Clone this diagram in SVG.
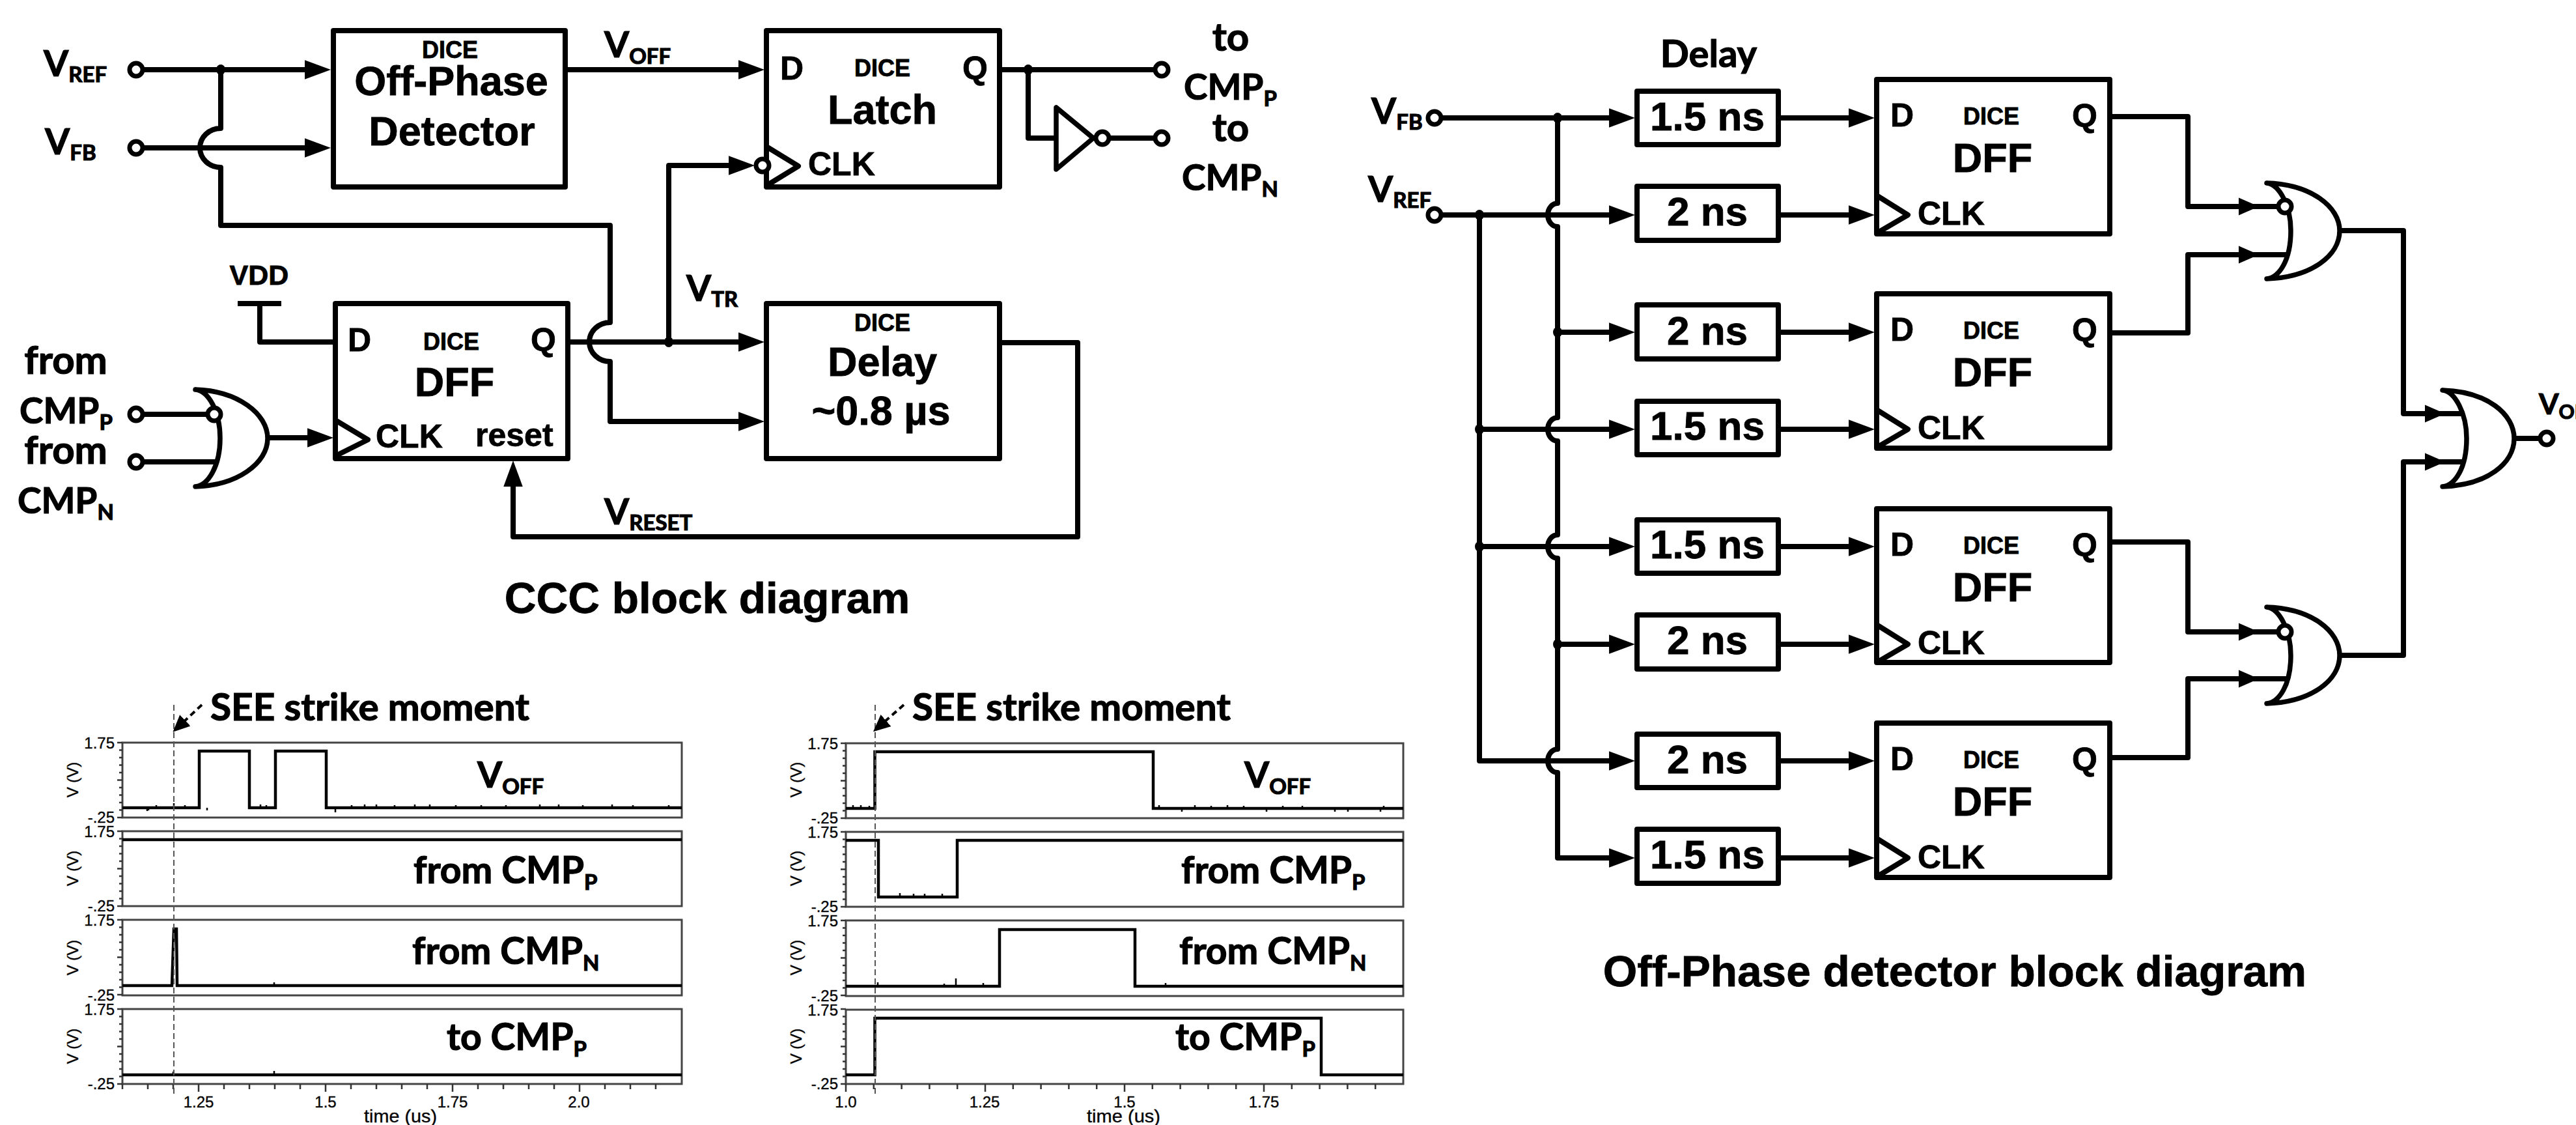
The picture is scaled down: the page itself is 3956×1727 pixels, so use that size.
<svg xmlns="http://www.w3.org/2000/svg" width="3956" height="1727" viewBox="0 0 3956 1727">
<style>
text{fill:#000}
.a{font-family:"Liberation Sans",Arial,sans-serif;font-weight:700;stroke:#000;stroke-width:.8}
.l{font-family:Lato,"Liberation Sans",sans-serif;font-weight:700;stroke:#000;stroke-width:1.2}
.c{text-anchor:middle}
.t{font-size:36px}.m{font-size:63px}.p{font-size:50px}.n{font-size:62px}.h{font-size:67.5px}
.v{font-size:55px}.s{font-size:33px}
.q{font-size:57px}.r{font-size:57px}.u{font-size:60px}
.ax{font-family:"Liberation Sans",Arial,sans-serif;font-size:24px;fill:#111;stroke:#111;stroke-width:.4}
.w{fill:none;stroke:#000;stroke-width:8;stroke-linejoin:round}
.wa{marker-end:url(#ah)}
.b{fill:#fff;stroke:#000;stroke-width:8;stroke-linejoin:round}
.o{fill:#fff;stroke:#000;stroke-width:7}
.g{fill:#fff;stroke:#000;stroke-width:7.5;stroke-linejoin:round;stroke-linecap:round}
.f{fill:#fff;stroke:#444;stroke-width:3}
.tk{fill:none;stroke:#333;stroke-width:2.5}
.sg{fill:none;stroke:#000;stroke-width:4.5}
.bl{fill:none;stroke:#000;stroke-width:2.5}
.dv{stroke:#555;stroke-width:2;stroke-dasharray:9 5}
</style>
<defs>
<marker id="ah" markerUnits="userSpaceOnUse" markerWidth="40" markerHeight="30" viewBox="0 0 38 28" refX="18" refY="14" orient="auto"><path d="M0 0L38 14L0 28z"/></marker>
<marker id="dh" markerUnits="userSpaceOnUse" markerWidth="26" markerHeight="24" viewBox="0 0 26 24" refX="6" refY="12" orient="auto"><path d="M0 0L26 12L0 24z"/></marker>
<path id="gh" d="M-31-13.5L0 0L-31 13.5z"/>
<path id="yt" class="tk" d="M-8 0h8m-5 11.5h5m-5 11.5h5m-5 11.5h5m-5 11.5h5m-8 11.5h8m-5 11.5h5m-5 11.5h5m-5 11.5h5m-5 11.5h5m-8 11.5h8"/>
<path id="x1" class="tk" d="M188 1664v8m39-8v8m39-8v8m39-8v12m39-12v8m39-8v8m39-8v8m39-8v8m39-8v12m39-12v8m39-8v8m39-8v8m39-8v8m39-8v12m39-12v8m39-8v8m39-8v8m39-8v8m39-8v12m39-12v8m39-8v8m39-8v8"/>
<path id="x2" class="tk" d="M1299 1664v12m42.8-12v8m42.8-8v8m42.8-8v8m42.8-8v8m42.8-8v12m42.8-12v8m42.8-8v8m42.8-8v8m42.8-8v8m42.8-8v12m42.8-12v8m42.8-8v8m42.8-8v8m42.8-8v8m42.8-8v12m42.8-12v8m42.8-8v8m42.8-8v8m42.8-8v8"/>
</defs>
<rect width="3956" height="1727" fill="#fff"/>

<g id="connectors">
<path class="w wa" d="M209 107H487"/>
<path class="w wa" d="M209 227H487"/>
<path class="w" d="M339 107V197A32 30 0 0 0 339 257V346H937V495A32 30 0 0 0 937 555V647H1153" marker-end="url(#ah)"/>
<path class="w wa" d="M872 107H1153"/>
<path class="w" d="M1539 107H1784M1579 107V212H1622M1693 212H1784"/>
<path class="w wa" d="M876 525H1153"/>
<path class="w wa" d="M1027 525V254H1138"/>
<path class="w" d="M365 466H432M399 466V525H515"/>
<path class="w" d="M209 636H329M209 709H335"/>
<path class="w wa" d="M411 672H491"/>
<path class="w" d="M1539 526H1655V824H788V728" marker-end="url(#ah)"/>
<path class="w wa" d="M2203 181H2490"/>
<path class="w wa" d="M2203 330H2490"/>
<path class="w" d="M2392 181V312A15 18 0 0 0 2392 348V641A15 18 0 0 0 2392 677V821A15 18 0 0 0 2392 857V1150A15 18 0 0 0 2392 1186V1317H2490" marker-end="url(#ah)"/>
<path class="w wa" d="M2392 510H2490"/>
<path class="w wa" d="M2392 989H2490"/>
<path class="w wa" d="M2272 330V1168H2490"/>
<path class="w wa" d="M2272 659H2490"/>
<path class="w wa" d="M2272 839H2490"/>
<path class="w wa" d="M2735 181H2858"/><path class="w wa" d="M2735 330H2858"/>
<path class="w wa" d="M2735 510H2858"/><path class="w wa" d="M2735 659H2858"/>
<path class="w wa" d="M2735 839H2858"/><path class="w wa" d="M2735 989H2858"/>
<path class="w wa" d="M2735 1168H2858"/><path class="w wa" d="M2735 1317H2858"/>
<path class="w" d="M3244 179H3360V317H3510M3244 511H3360V391H3516M3244 832H3360V970H3510M3244 1163H3360V1042H3516"/>
<path class="w" d="M3593 354H3691V635H3782M3593 1006H3691V709H3782M3861 673H3911"/>
<use href="#gh" x="3469" y="317"/><use href="#gh" x="3469" y="391"/>
<use href="#gh" x="3469" y="970"/><use href="#gh" x="3469" y="1042"/>
<use href="#gh" x="3755" y="635"/><use href="#gh" x="3755" y="709"/>
<g id="junctions">
<ellipse cx="339" cy="107" rx="7" ry="8"/><ellipse cx="1579" cy="107" rx="7" ry="8"/><ellipse cx="1027" cy="525" rx="7" ry="8"/>
<ellipse cx="2392" cy="181" rx="7" ry="8"/><ellipse cx="2272" cy="330" rx="7" ry="8"/><ellipse cx="2392" cy="510" rx="7" ry="8"/>
<ellipse cx="2272" cy="659" rx="7" ry="8"/><ellipse cx="2272" cy="839" rx="7" ry="8"/><ellipse cx="2392" cy="989" rx="7" ry="8"/>
</g>
</g>

<g id="ccc-terminals">
<circle class="o" cx="209" cy="107" r="10"/><circle class="o" cx="209" cy="227" r="10"/>
<circle class="o" cx="1784" cy="107" r="10"/><circle class="o" cx="1784" cy="212" r="10"/>
<circle class="o" cx="209" cy="636" r="10"/><circle class="o" cx="209" cy="709" r="10"/>
</g>
<g id="ccc-labels">
<text class="l v" x="67" y="117">V<tspan class="s" dy="9">REF</tspan></text>
<text class="l v" x="69" y="237">V<tspan class="s" dy="9">FB</tspan></text>
<text class="l v" x="928" y="88">V<tspan class="s" dy="10">OFF</tspan></text>
<text class="l v" x="1054" y="462">V<tspan class="s" dy="9">TR</tspan></text>
<text class="l v" x="928" y="805">V<tspan class="s" dy="9">RESET</tspan></text>
<text class="l c u" x="1890" y="78">to</text>
<text class="l v" x="1818" y="153">CMP<tspan class="s" dy="10">P</tspan></text>
<text class="l c u" x="1890" y="217">to</text>
<text class="l v" x="1815" y="292">CMP<tspan class="s" dy="10">N</tspan></text>
<text class="l c u" x="101" y="574">from</text>
<text class="l v" x="30" y="650">CMP<tspan class="s" dy="10">P</tspan></text>
<text class="l c u" x="101" y="712">from</text>
<text class="l v" x="27" y="788">CMP<tspan class="s" dy="10">N</tspan></text>
<text class="a c" style="font-size:43px" x="398" y="437">VDD</text>
<text class="a c h" x="1086" y="941">CCC block diagram</text>
</g>

<g id="off-phase-detector-block">
<rect class="b" x="512" y="47" width="356" height="240"/>
<text class="a c t" x="691" y="89">DICE</text>
<text class="a c m" x="693" y="146">Off-Phase</text>
<text class="a c m" x="694" y="223">Detector</text>
</g>
<g id="latch">
<rect class="b" x="1177" y="47" width="358" height="240"/>
<path class="w" d="M1177 225L1226 255L1177 285"/>
<circle class="o" cx="1171" cy="254" r="10"/>
<text class="a p" x="1198" y="122">D</text>
<text class="a p" x="1478" y="122">Q</text>
<text class="a c t" x="1355" y="117">DICE</text>
<text class="a c m" x="1355" y="190">Latch</text>
<text class="a p" x="1241" y="269">CLK</text>
</g>
<g id="inverter">
<path class="g" d="M1622 165V260L1679 212z"/>
<circle class="o" cx="1693" cy="212" r="10"/>
</g>
<g id="ccc-dff">
<rect class="b" x="515" y="466" width="357" height="238"/>
<path class="w" d="M515 645L565 675L515 700"/>
<text class="a p" x="534" y="539">D</text>
<text class="a p" x="815" y="539">Q</text>
<text class="a c t" x="693" y="537">DICE</text>
<text class="a c m" x="698" y="608">DFF</text>
<text class="a p" x="577" y="687">CLK</text>
<text class="a p" x="730" y="685">reset</text>
</g>
<g id="ccc-delay">
<rect class="b" x="1177" y="466" width="358" height="238"/>
<text class="a c t" x="1355" y="508">DICE</text>
<text class="a c m" x="1355" y="577">Delay</text>
<text class="a c m" x="1353" y="652">~0.8 µs</text>
</g>
<g id="ccc-or">
<path class="g" d="M300 598C365 600 411 635 411 673C411 711 365 745 300 747C320 745 338 715 338 673C338 631 320 600 300 598z"/>
<circle class="o" cx="329" cy="636" r="10"/>
</g>

<g id="plot-left">
<rect class="f" x="188" y="1140" width="859" height="115"/>
<rect class="f" x="188" y="1276" width="859" height="115"/>
<rect class="f" x="188" y="1412" width="859" height="116"/>
<rect class="f" x="188" y="1549" width="859" height="115"/>
<use href="#yt" x="188" y="1140"/><use href="#yt" x="188" y="1276"/><use href="#yt" x="188" y="1412"/><use href="#yt" x="188" y="1549"/>
<use href="#x1"/>
<path class="sg" d="M188 1240H306V1153H383V1240H423V1153H501V1240H1047"/>
<path class="sg" d="M188 1289H1047"/>
<path class="sg" d="M188 1513H264L267 1426H271L272 1513H1047"/>
<path class="sg" d="M188 1650H1047"/>
<path class="bl" d="M226 1240v5M240 1240v-4M228 1240v4M267 1240v-7M284 1240v-4M318 1240v4M400 1240v-5M409 1240v-4M515 1240v7M540 1240v-4M560 1240v-5M578 1240v-5M606 1240v-4M637 1240v-5M660 1240v-5M700 1240v-4M739 1240v-4M777 1240v-4M829 1240v-5M858 1240v-5M895 1240v-4M940 1240v-5M972 1240v-4M1027 1240v-4M421 1513v-5M421 1650v-6M266 1650v-5"/>
<path class="dv" d="M267 1082V1682"/>
<path class="w" style="stroke-width:4;stroke-dasharray:9 6" d="M310 1082L280 1110" marker-end="url(#dh)"/>
<text class="l q" x="323" y="1106" textLength="490" lengthAdjust="spacingAndGlyphs">SEE strike moment</text>
<text class="l v" x="733" y="1209">V<tspan class="s" dy="10">OFF</tspan></text>
<text class="l r" x="635" y="1356">from CMP<tspan class="s" dy="10">P</tspan></text>
<text class="l r" x="633" y="1480">from CMP<tspan class="s" dy="10">N</tspan></text>
<text class="l r" x="686" y="1612">to CMP<tspan class="s" dy="10">P</tspan></text>
<g class="ax">
<text x="176" y="1149" text-anchor="end">1.75</text><text x="176" y="1263" text-anchor="end">-.25</text>
<text x="176" y="1285" text-anchor="end">1.75</text><text x="176" y="1399" text-anchor="end">-.25</text>
<text x="176" y="1421" text-anchor="end">1.75</text><text x="176" y="1536" text-anchor="end">-.25</text>
<text x="176" y="1558" text-anchor="end">1.75</text><text x="176" y="1672" text-anchor="end">-.25</text>
<text text-anchor="middle" transform="translate(120 1197) rotate(-90)">V (V)</text>
<text text-anchor="middle" transform="translate(120 1333) rotate(-90)">V (V)</text>
<text text-anchor="middle" transform="translate(120 1470) rotate(-90)">V (V)</text>
<text text-anchor="middle" transform="translate(120 1606) rotate(-90)">V (V)</text>
<text x="305" y="1700" text-anchor="middle">1.25</text><text x="500" y="1700" text-anchor="middle">1.5</text>
<text x="695" y="1700" text-anchor="middle">1.75</text><text x="889" y="1700" text-anchor="middle">2.0</text>
<text x="559" y="1723" textLength="112" lengthAdjust="spacingAndGlyphs" style="font-size:28px">time (us)</text>
</g>
</g>

<g id="plot-right">
<rect class="f" x="1299" y="1141" width="856" height="115"/>
<rect class="f" x="1299" y="1277" width="856" height="115"/>
<rect class="f" x="1299" y="1413" width="856" height="116"/>
<rect class="f" x="1299" y="1550" width="856" height="114"/>
<use href="#yt" x="1299" y="1141"/><use href="#yt" x="1299" y="1277"/><use href="#yt" x="1299" y="1413"/><use href="#yt" x="1299" y="1549"/>
<use href="#x2"/>
<path class="sg" d="M1299 1241H1343.5V1154H1771V1241H2155"/>
<path class="sg" d="M1299 1290H1349V1377H1470V1290H2155"/>
<path class="sg" d="M1299 1514H1535V1427H1743V1514H2155"/>
<path class="sg" d="M1299 1650H1343.5V1563H2029V1650H2155"/>
<path class="bl" d="M1310 1241v-5M1322 1241v-5M1335 1241v-4M1780 1241v-5M1815 1241v5M1835 1241v-5M1860 1241v-4M1885 1241v-5M1910 1241v-4M1945 1241v5M1970 1241v-4M2000 1241v-4M2050 1241v5M2070 1241v5M2120 1241v5M2125 1241v-4M1382 1377v-6M1403 1377v-5M1420 1377v-5M1447 1377v-5M1348 1514v-6M1468 1514v-12M1450 1514v-4M1510 1514v-5M1790 1514v-5"/>
<path class="dv" d="M1344 1082V1682"/>
<path class="w" style="stroke-width:4;stroke-dasharray:9 6" d="M1388 1082L1356 1110" marker-end="url(#dh)"/>
<text class="l q" x="1401" y="1106" textLength="489" lengthAdjust="spacingAndGlyphs">SEE strike moment</text>
<text class="l v" x="1911" y="1209">V<tspan class="s" dy="10">OFF</tspan></text>
<text class="l r" x="1814" y="1356">from CMP<tspan class="s" dy="10">P</tspan></text>
<text class="l r" x="1811" y="1480">from CMP<tspan class="s" dy="10">N</tspan></text>
<text class="l r" x="1805" y="1612">to CMP<tspan class="s" dy="10">P</tspan></text>
<g class="ax">
<text x="1287" y="1150" text-anchor="end">1.75</text><text x="1287" y="1264" text-anchor="end">-.25</text>
<text x="1287" y="1286" text-anchor="end">1.75</text><text x="1287" y="1400" text-anchor="end">-.25</text>
<text x="1287" y="1422" text-anchor="end">1.75</text><text x="1287" y="1537" text-anchor="end">-.25</text>
<text x="1287" y="1559" text-anchor="end">1.75</text><text x="1287" y="1672" text-anchor="end">-.25</text>
<text text-anchor="middle" transform="translate(1231 1197) rotate(-90)">V (V)</text>
<text text-anchor="middle" transform="translate(1231 1333) rotate(-90)">V (V)</text>
<text text-anchor="middle" transform="translate(1231 1470) rotate(-90)">V (V)</text>
<text text-anchor="middle" transform="translate(1231 1606) rotate(-90)">V (V)</text>
<text x="1299" y="1700" text-anchor="middle">1.0</text><text x="1512" y="1700" text-anchor="middle">1.25</text>
<text x="1727" y="1700" text-anchor="middle">1.5</text><text x="1941" y="1700" text-anchor="middle">1.75</text>
<text x="1669" y="1723" textLength="113" lengthAdjust="spacingAndGlyphs" style="font-size:28px">time (us)</text>
</g>
</g>

<g id="opd-labels">
<circle class="o" cx="2203" cy="181" r="10"/><circle class="o" cx="2203" cy="330" r="10"/>
<text class="l v" x="2106" y="190">V<tspan class="s" dy="9">FB</tspan></text>
<text class="l v" x="2101" y="310">V<tspan class="s" dy="9">REF</tspan></text>
<text class="l c" style="font-size:58px" x="2624" y="103">Delay</text>
<text class="a c h" x="3002" y="1514">Off-Phase detector block diagram</text>
</g>
<g id="delay-1"><rect class="b" x="2514" y="140" width="217" height="82"/><text class="a c n" x="2622" y="200">1.5 ns</text></g>
<g id="delay-2"><rect class="b" x="2514" y="286" width="217" height="83"/><text class="a c n" x="2622" y="346">2 ns</text></g>
<g id="delay-3"><rect class="b" x="2514" y="468" width="217" height="83"/><text class="a c n" x="2622" y="529">2 ns</text></g>
<g id="delay-4"><rect class="b" x="2514" y="616" width="217" height="82"/><text class="a c n" x="2622" y="675">1.5 ns</text></g>
<g id="delay-5"><rect class="b" x="2514" y="798" width="217" height="82"/><text class="a c n" x="2622" y="857">1.5 ns</text></g>
<g id="delay-6"><rect class="b" x="2514" y="944" width="217" height="83"/><text class="a c n" x="2622" y="1004">2 ns</text></g>
<g id="delay-7"><rect class="b" x="2514" y="1127" width="217" height="82"/><text class="a c n" x="2622" y="1187">2 ns</text></g>
<g id="delay-8"><rect class="b" x="2514" y="1273" width="217" height="83"/><text class="a c n" x="2622" y="1333">1.5 ns</text></g>

<g id="dff-1"><rect class="b" x="2882" y="122" width="358" height="237"/><path class="w" d="M2882 300L2930 330L2882 358"/>
<text class="a p" x="2903" y="194">D</text><text class="a p" x="3182" y="195">Q</text><text class="a c t" x="3058" y="191">DICE</text><text class="a c m" x="3060" y="264">DFF</text><text class="a p" x="2945" y="345">CLK</text></g>
<g id="dff-2"><rect class="b" x="2882" y="451" width="358" height="237"/><path class="w" d="M2882 629L2930 659L2882 687"/>
<text class="a p" x="2903" y="523">D</text><text class="a p" x="3182" y="524">Q</text><text class="a c t" x="3058" y="520">DICE</text><text class="a c m" x="3060" y="593">DFF</text><text class="a p" x="2945" y="674">CLK</text></g>
<g id="dff-3"><rect class="b" x="2882" y="781" width="358" height="236"/><path class="w" d="M2882 959L2930 989L2882 1017"/>
<text class="a p" x="2903" y="853">D</text><text class="a p" x="3182" y="854">Q</text><text class="a c t" x="3058" y="850">DICE</text><text class="a c m" x="3060" y="923">DFF</text><text class="a p" x="2945" y="1004">CLK</text></g>
<g id="dff-4"><rect class="b" x="2882" y="1110" width="358" height="237"/><path class="w" d="M2882 1287L2930 1317L2882 1346"/>
<text class="a p" x="2903" y="1182">D</text><text class="a p" x="3182" y="1183">Q</text><text class="a c t" x="3058" y="1179">DICE</text><text class="a c m" x="3060" y="1252">DFF</text><text class="a p" x="2945" y="1333">CLK</text></g>

<g id="or-1"><path class="g" d="M3481 281C3550 283 3593 318 3593 354C3593 392 3550 426 3481 428C3500 426 3518 400 3518 354C3518 315 3500 283 3481 281z"/><circle class="o" cx="3509" cy="317" r="10"/></g>
<g id="or-2"><path class="g" d="M3481 932C3550 934 3593 969 3593 1006C3593 1044 3550 1078 3481 1080C3500 1078 3518 1052 3518 1006C3518 967 3500 934 3481 932z"/><circle class="o" cx="3509" cy="970" r="10"/></g>
<g id="or-3"><path class="g" d="M3751 599C3820 601 3861 636 3861 673C3861 711 3820 745 3751 747C3770 745 3788 719 3788 673C3788 634 3770 601 3751 599z"/></g>
<g id="vout"><circle class="o" cx="3911" cy="673" r="10"/><text class="l" style="font-size:44px" x="3899" y="636">V<tspan style="font-size:30px" dy="7">OFF</tspan></text></g>
</svg>
